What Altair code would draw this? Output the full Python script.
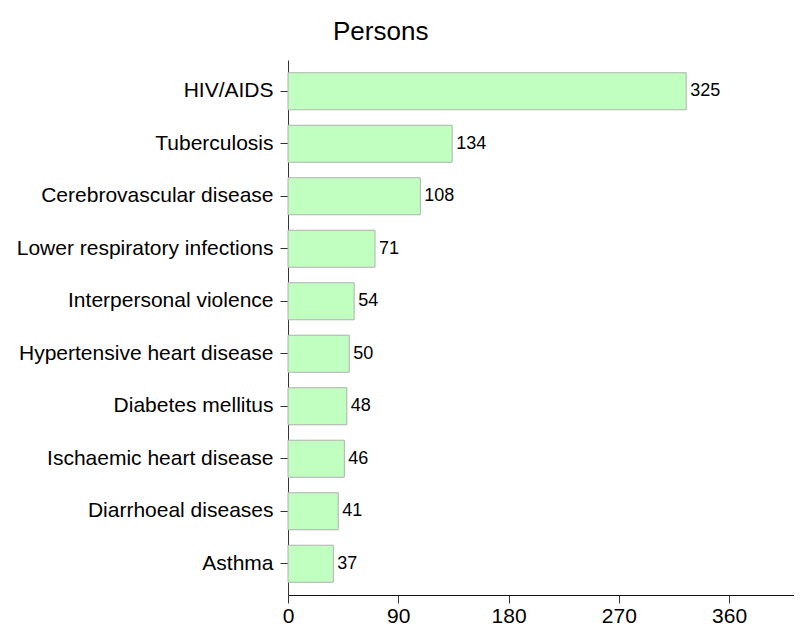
import altair as alt
import pandas as pd

causes = [
    "HIV/AIDS",
    "Tuberculosis",
    "Cerebrovascular disease",
    "Lower respiratory infections",
    "Interpersonal violence",
    "Hypertensive heart disease",
    "Diabetes mellitus",
    "Ischaemic heart disease",
    "Diarrhoeal diseases",
    "Asthma",
]
values = [325, 134, 108, 71, 54, 50, 48, 46, 41, 37]
x_ticks = [0, 90, 180, 270, 360]

df = pd.DataFrame({"cause": causes, "value": values})

FONT = "Liberation Sans"

base = alt.Chart(df).encode(
    y=alt.Y(
        "cause:N",
        sort=causes,
        title=None,
        scale=alt.Scale(paddingInner=0.295, paddingOuter=0.243),
        axis=alt.Axis(
            labelFontSize=21,
            labelFont=FONT,
            labelColor="black",
            labelLimit=0,
            tickSize=8,
            tickColor="#333333",
            labelPadding=7,
            domainColor="#333333",
            grid=False,
        ),
    ),
    x=alt.X(
        "value:Q",
        title=None,
        scale=alt.Scale(domain=[0, 413], nice=False),
        axis=alt.Axis(
            values=x_ticks,
            labelFontSize=21,
            labelFont=FONT,
            labelColor="black",
            tickSize=8,
            tickColor="#333333",
            labelPadding=2,
            domainColor="#111111",
            grid=False,
            labelFlush=False,
        ),
    ),
)

bars = base.mark_bar(fill="#c1ffc1", stroke="#b0b0b0", strokeWidth=1)
labels = base.mark_text(
    align="left", baseline="middle", dx=4, fontSize=18, font=FONT, color="black"
).encode(text=alt.Text("value:Q"))

chart = (
    alt.layer(bars, labels)
    .properties(
        width=506,
        height=535,
        title=alt.Title(
            "Persons",
            anchor="start",
            frame="group",
            dx=45,
            dy=25,
            fontSize=26,
            font=FONT,
            fontWeight="normal",
            color="black",
            baseline="alphabetic",
            offset=19,
        ),
        autosize=alt.AutoSizeParams(type="none"),
        padding={"left": 280, "top": 52, "right": 0, "bottom": 30},
    )
    .configure(background="white", view=alt.ViewConfig(stroke="transparent", strokeWidth=0))
)

chart.save("out.html", embed_options={"renderer": "svg", "actions": False})
